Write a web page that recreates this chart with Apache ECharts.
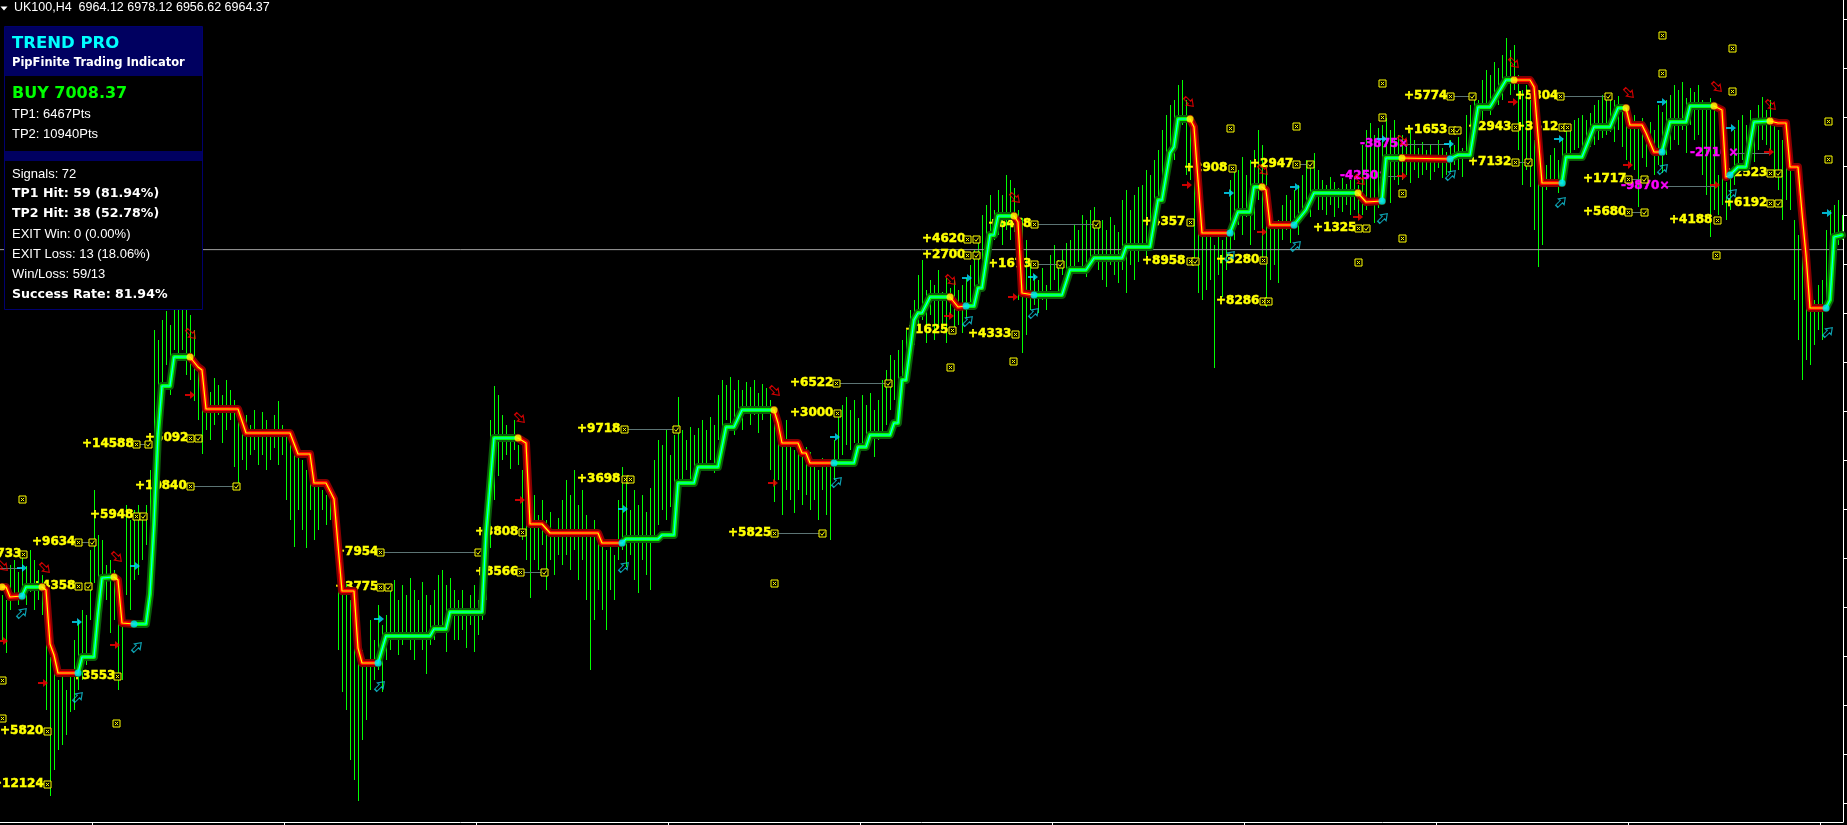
<!DOCTYPE html>
<html>
<head>
<meta charset="utf-8">
<title>UK100,H4 - Trend Pro</title>
<script src="https://cdn.jsdelivr.net/npm/echarts@6.0.0/dist/echarts.min.js"></script>
<style>
  html, body { margin: 0; padding: 0; background: #000; }
  #chart { width: 1847px; height: 825px; }
</style>
</head>
<body>
<div id="chart"></div>
<script>
// bar highs / lows (one bar every 4px, 1 point per pixel)
const HIGH = [
  6619,6614,6649,6654,6642,6659,6648,6664,6654,6644,
  6639,6624,6557,6554,6534,6544,6524,6539,6574,6594,
  6604,6599,6664,6724,6679,6674,6649,6654,6644,6614,
  6599,6709,6694,6704,6709,6699,6709,6744,6884,6874,
  6894,6903,6889,6914,6919,6914,6909,6899,6884,6851,
  6840,6834,6822,6836,6829,6819,6834,6824,6814,6804,
  6794,6799,6789,6804,6784,6802,6794,6779,6799,6813,
  6789,6784,6774,6778,6769,6754,6744,6752,6734,6729,
  6724,6719,6729,6714,6674,6654,6630,6614,6594,6574,
  6564,6554,6594,6574,6609,6589,6599,6624,6634,6614,
  6629,6619,6636,6624,6614,6632,6619,6609,6624,6639,
  6644,6629,6636,6624,6614,6624,6604,6619,6629,6614,
  6654,6714,6794,6828,6819,6799,6789,6774,6794,6769,
  6744,6724,6709,6719,6699,6714,6694,6702,6679,6696,
  6714,6734,6719,6744,6709,6724,6699,6684,6694,6674,
  6669,6664,6671,6659,6714,6747,6734,6704,6724,6709,
  6719,6702,6726,6754,6774,6769,6784,6759,6779,6817,
  6784,6774,6787,6779,6786,6794,6784,6797,6789,6819,
  6834,6829,6837,6824,6834,6824,6832,6827,6834,6821,
  6830,6826,6814,6804,6789,6784,6794,6771,6764,6769,
  6759,6767,6762,6754,6744,6756,6749,6752,6774,6799,
  6809,6817,6804,6814,6796,6819,6809,6821,6804,6814,
  6834,6844,6859,6854,6864,6874,6884,6904,6914,6939,
  6954,6924,6934,6929,6944,6922,6936,6926,6934,6924,
  6929,6936,6949,6964,6971,6999,7009,7019,7004,7024,
  7019,7039,7034,7026,7004,6996,6974,6949,6939,6934,
  6946,6929,6959,6969,6954,6964,6971,6974,6989,6984,
  6999,6994,7004,7007,6989,6994,6984,6997,6989,6982,
  7014,7024,7004,7019,7027,7029,7044,7039,7054,7064,
  7084,7099,7109,7114,7129,7134,7114,7099,7074,7014,
  6994,6979,6984,6969,6982,6974,6978,7034,7049,7044,
  7057,7039,7054,7064,7084,7069,7049,6999,6986,6994,
  7009,7019,7014,7024,7029,7039,7054,7049,7061,7044,
  7034,7029,7037,7032,7026,7036,7030,7034,7038,7029,
  7069,7084,7091,7079,7086,7089,7096,7084,7094,7079,
  7079,7069,7084,7074,7066,7072,7064,7069,7059,7074,
  7066,7062,7074,7069,7077,7066,7099,7109,7119,7114,
  7134,7144,7139,7152,7146,7159,7176,7164,7169,7139,
  7124,7129,7114,7074,7054,7064,7049,7059,7066,7054,
  7076,7084,7089,7094,7096,7099,7094,7101,7109,7114,
  7119,7116,7121,7114,7118,7109,7102,7094,7099,7089,
  7096,7086,7092,7084,7109,7102,7114,7119,7129,7124,
  7132,7116,7126,7122,7129,7114,7109,7116,7104,7039,
  7044,7032,7036,7084,7094,7099,7089,7104,7096,7109,
  7117,7104,7114,7094,7084,7074,7079,7064,6994,6979,
  6969,6964,6924,6914,6929,6934,6984,7004,7009,7014,
  6999
];
const LOW = [
  6574,6561,6604,6614,6609,6616,6609,6622,6604,6614,
  6599,6504,6418,6444,6464,6469,6479,6502,6504,6524,
  6534,6549,6594,6631,6634,6624,6614,6581,6594,6524,
  6534,6619,6604,6634,6639,6654,6669,6669,6767,6794,
  6824,6849,6819,6864,6854,6864,6839,6834,6813,6794,
  6760,6784,6774,6789,6799,6771,6784,6794,6747,6726,
  6754,6744,6759,6764,6749,6759,6744,6754,6766,6749,
  6759,6714,6694,6667,6704,6684,6666,6704,6674,6684,
  6704,6689,6694,6679,6564,6522,6504,6454,6434,6413,
  6474,6494,6524,6534,6544,6522,6554,6564,6574,6559,
  6569,6576,6564,6554,6574,6564,6540,6569,6574,6584,
  6589,6562,6594,6574,6574,6584,6566,6589,6562,6579,
  6594,6614,6666,6714,6738,6754,6759,6745,6764,6749,
  6674,6654,6616,6654,6644,6669,6624,6654,6639,6659,
  6649,6659,6644,6664,6634,6654,6614,6544,6594,6624,
  6604,6584,6624,6614,6654,6664,6647,6659,6634,6621,
  6654,6639,6624,6674,6689,6704,6694,6707,6699,6724,
  6734,6744,6729,6747,6739,6749,6744,6754,6741,6774,
  6784,6794,6789,6779,6796,6784,6804,6789,6799,6781,
  6794,6807,6744,6712,6734,6699,6724,6714,6701,6724,
  6709,6719,6704,6714,6694,6724,6699,6674,6734,6751,
  6759,6769,6764,6771,6754,6769,6764,6779,6757,6774,
  6781,6789,6804,6814,6809,6824,6847,6859,6869,6884,
  6894,6871,6899,6874,6889,6884,6871,6899,6884,6889,
  6881,6896,6904,6909,6914,6949,6964,6959,6974,6979,
  6969,6984,6974,6982,6914,6861,6879,6904,6909,6901,
  6914,6904,6924,6934,6921,6939,6929,6939,6946,6952,
  6944,6937,6949,6952,6944,6934,6927,6949,6939,6931,
  6944,6921,6949,6934,6952,6964,6954,6979,6989,6994,
  7019,7034,7049,7054,7074,7089,7039,7034,6954,6921,
  6914,6924,6934,6846,6939,6917,6944,6964,6974,6989,
  6979,6997,6969,6984,7014,6951,6907,6934,6949,6931,
  6974,6984,6971,6989,6979,6999,7009,6997,7014,7004,
  7004,6999,7009,6997,7006,7002,7009,6999,7004,6996,
  6999,7004,7009,6991,7006,7014,7024,7011,7034,7029,
  7034,7039,7031,7044,7036,7039,7044,7034,7042,7046,
  7036,7039,7042,7049,7044,7037,7057,7064,7074,7084,
  7094,7104,7099,7114,7109,7114,7129,7119,7124,7064,
  7029,7044,7027,6984,6947,6969,7024,7029,7034,7021,
  7034,7056,7059,7064,7066,7059,7064,7067,7069,7074,
  7076,7079,7082,7072,7084,7067,7054,7049,7044,7007,
  7056,7047,7064,7039,7049,7041,7059,7064,7074,7069,
  7084,7061,7089,7074,7079,7039,7019,6977,7004,6999,
  7009,6994,7004,7029,7049,7054,7044,7059,7052,7064,
  7074,7069,7064,7039,7024,6994,7014,7004,6914,6874,
  6834,6854,6849,6869,6884,6874,6914,6954,6964,6969,
  6974
];

// trend legs: 'u' = up (green), 'd' = down (red); points are [bar, price]
const TREND_LEGS = [
  ['d', [[0,6627],[1,6627],[2,6617],[5,6618]]],
  ['u', [[5,6618],[6,6627],[10,6627]]],
  ['d', [[10,6627],[11,6624],[12,6570],[13,6559],[14,6541],[19,6541]]],
  ['u', [[19,6541],[20,6557],[23,6557],[24,6600],[25,6636],[28,6637]]],
  ['d', [[28,6637],[29,6634],[30,6591],[33,6590]]],
  ['u', [[33,6590],[36,6590],[37,6620],[38,6690],[39,6780],[40,6828],[42,6828],[43,6857],[47,6857]]],
  ['d', [[47,6857],[49,6847],[50,6844],[51,6805],[59,6805],[61,6781],[72,6781],[74,6760],[77,6760],[78,6731],[81,6731],[83,6715],[85,6623],[88,6623],[89,6566],[90,6551],[94,6551]]],
  ['u', [[94,6551],[96,6578],[107,6578],[108,6585],[111,6585],[112,6602],[120,6602],[121,6680],[123,6776],[129,6776]]],
  ['d', [[129,6776],[131,6771],[132,6690],[135,6690],[137,6681],[149,6681],[150,6671],[155,6671]]],
  ['u', [[155,6671],[156,6675],[164,6675],[165,6679],[168,6679],[169,6731],[173,6731],[174,6747],[179,6747],[181,6787],[183,6787],[185,6804],[193,6804]]],
  ['d', [[193,6804],[194,6791],[195,6771],[199,6771],[200,6761],[201,6761],[202,6751],[208,6751]]],
  ['u', [[208,6751],[213,6751],[214,6767],[216,6767],[217,6779],[222,6779],[223,6791],[224,6791],[225,6834],[226,6834],[228,6894],[229,6901],[230,6901],[232,6917],[237,6917]]],
  ['d', [[237,6917],[239,6907],[241,6908]]],
  ['u', [[241,6908],[243,6908],[244,6926],[245,6926],[247,6979],[248,6979],[249,6998],[253,6998]]],
  ['d', [[253,6998],[254,6992],[255,6921],[258,6919]]],
  ['u', [[258,6919],[265,6919],[267,6944],[271,6944],[273,6956],[280,6956],[281,6967],[287,6967],[289,7014],[290,7014],[292,7061],[293,7067],[294,7095],[297,7095]]],
  ['d', [[297,7095],[298,7087],[300,6981],[307,6981]]],
  ['u', [[307,6981],[309,7002],[312,7002],[313,7027],[315,7027]]],
  ['d', [[315,7027],[316,7024],[317,6989],[323,6989]]],
  ['u', [[323,6989],[326,7004],[328,7021],[339,7021]]],
  ['d', [[339,7021],[341,7012],[345,7013]]],
  ['u', [[345,7013],[346,7056],[350,7056]]],
  ['d', [[350,7056],[362,7055]]],
  ['u', [[362,7055],[364,7059],[367,7059],[369,7107],[372,7107],[376,7134],[378,7134]]],
  ['d', [[378,7134],[382,7134],[383,7127],[385,7031],[390,7031]]],
  ['u', [[390,7031],[391,7057],[395,7057],[398,7087],[402,7087],[404,7106],[406,7106]]],
  ['d', [[406,7106],[407,7089],[410,7089],[411,7081],[413,7062],[415,7062]]],
  ['u', [[415,7062],[417,7092],[421,7092],[422,7108],[428,7108]]],
  ['d', [[428,7108],[430,7104],[431,7037],[432,7039]]],
  ['u', [[432,7039],[434,7047],[436,7047],[438,7092],[442,7093]]],
  ['d', [[442,7093],[444,7091],[446,7091],[447,7047],[449,7047],[450,7001],[451,6959],[452,6906],[456,6906]]],
  ['u', [[456,6906],[457,6914],[458,6977],[460,6979]]]
];

// signal arrows [bar, price]
const SELL_ARROWS = [[0.25,6648],[10.75,6646],[28.75,6657],[47.25,6880],[129.5,6796],[193.25,6823],[237.25,6934],[253.25,7016],[296.75,7112],[315.25,7044],[339.5,7034],[350.25,7073],[378,7151],[406.75,7121],[428.75,7127],[442.25,7109]];
const BUY_ARROWS = [[5,6601],[19,6517],[33.75,6567],[94.5,6528],[155.5,6647],[208.75,6732],[241.5,6893],[258,6901],[307,6958],[323.5,6968],[345.25,6996],[362.25,7039],[389.75,7012],[415.25,7045],[432.5,7020],[456.5,6882]];
const SELL_ENTRY = [[0.25,6573],[10.25,6531],[28.25,6569],[47,6819],[129.5,6714],[192.75,6731],[236.75,6898],[252.75,6917],[296.25,7029],[315,6982],[339,6997],[350,7038],[377.75,7112],[406.5,7049],[428.25,7029],[441.75,7062]];
const BUY_ENTRY = [[5,6646],[18.75,6592],[33.25,6648],[94.25,6595],[155.25,6705],[208.25,6777],[241.25,6936],[257.75,6937],[306.75,7021],[323.25,7027],[345,7075],[361.75,7070],[389.25,7075],[415,7112],[432.25,7086],[456.25,7001]];

// profit / loss texts [bar, price, text]
const WIN_LABELS = [
  [-6,6660,'+5733'],[7.5,6672,'+9634'],[7.5,6628,'+4358'],[22,6699,'+5948'],[33.25,6728,'+10840'],
  [20,6770,'+14588'],[35.75,6776,'+5092'],[17.5,6538,'+3553'],[-0.5,6483,'+5820'],[-2.5,6430,'+12124'],
  [83.25,6662,'+7954'],[83.25,6627,'+3775'],[118.25,6682,'+3808'],[118.25,6642,'+8566'],
  [143.75,6785,'+9718'],[143.75,6735,'+3698'],[197,6831,'+6522'],[197,6801,'+3000'],[181.5,6681,'+5825'],
  [225.75,6884,'+1625'],[230,6975,'+4620'],[230,6959,'+2700'],[246.5,6990,'+6458'],[246.5,6950,'+1673'],
  [241.5,6880,'+4333'],[285,6992,'+4357'],[285,6953,'+8958'],[295.5,7046,'+2908'],[312,7050,'+2947'],
  [303.5,6954,'+3280'],[303.5,6913,'+8286'],[327.75,6986,'+1325'],[350.5,7118,'+5774'],[350.5,7084,'+1653'],
  [366.5,7087,'+2943'],[378.25,7087,'+3612'],[366.5,7052,'+7132'],[378.25,7118,'+5304'],
  [395.25,7035,'+1717'],[395.25,7002,'+5680'],[430.5,7041,'+2523'],[430.5,7011,'+6192'],[416.75,6994,'+4188']
];
const LOSS_LABELS = [[339.5,7070,'-3875×'],[334.5,7038,'-4250×'],[404.75,7028,'-9870×'],[422,7061,'-2710×']];

// target boxes [bar, price]
const BOX_OPEN = [
  [5.25,6660],[19,6672],[19,6628],[33.5,6698],[47,6728],[33.5,6770],[47,6776],[28.75,6538],[11.25,6483],[11.25,6430],
  [5,6715],[0,6534],[0,6496],[28.5,6491],[94.5,6662],[94.5,6627],[130,6682],[129.5,6642],[155.5,6785],[155.75,6735],
  [157,6735],[208.5,6831],[208.75,6801],[193,6681],[193,6631],[237.5,6884],[241.25,6975],[241.25,6959],[258,6990],[258,6950],
  [253.25,6880],[237,6847],[252.75,6853],[297,6992],[297,6953],[307.5,7046],[323.5,7050],[315.25,6954],[315.25,6913],[316.5,6913],
  [339,6986],[362,7118],[362.5,7084],[345,7131],[345,7097],[307,7086],[323.5,7088],[350,7021],[350,6976],[339,6952],
  [378.25,7087],[390,7087],[391.25,7087],[378.25,7052],[389.5,7118],[406.5,7035],[406.5,7002],[442,7041],[442,7011],[428.75,6994],
  [415,7179],[415,7141],[432.5,7166],[432.5,7123],[456.5,7093],[456.5,7055],[428.5,6959]
];
const BOX_HIT = [
  [22.5,6672],[21.5,6628],[35.25,6698],[58.5,6728],[36.5,6770],[49,6776],[119,6662],[96.5,6627],[135.5,6642],
  [168.5,6785],[221.5,6831],[205,6681],[243.5,6975],[243.5,6959],[273.5,6990],[264.5,6950],[298.25,6953],
  [327,7050],[341,6986],[367.5,7118],[363.75,7084],[381.5,7052],[401.5,7118],[410.5,7035],[410.5,7002],[444,7041],[444,7011]
];
// target link lines [fromBar, toBar, price]
const LINKS = [
  [19,22.5,6672],[47,58.5,6728],[33.5,36.5,6770],[94.5,119,6662],[129.5,135.5,6642],[155.5,168.5,6785],
  [208.5,221.5,6831],[193,205,6681],[258,273.5,6990],[258,264.5,6950],[323.5,327,7050],[362,367.5,7118],
  [378.25,381.5,7052],[389.5,401.5,7118],[406.5,410.5,7035],[406.5,410.5,7002],[350.25,361.75,7070],
  [345.25,350,7038],[415.25,428.25,7028],[432.5,441.75,7061],[-0.5,4.5,6646]
];

const BID = 6964.37;
const X_TICKS = [22.5,70.5,118.5,166.5,214.5,262.5,310.5,358.5,406.5,454.5];
const Y_TICKS = [7195,7146,7097,7048,6999,6950,6901,6852,6803,6754,6705,6656,6607,6558,6509,6460,6411];

const HEADER = 'UK100,H4  6964.12 6978.12 6956.62 6964.37';
const PANEL_LINES = [
  ['Signals: 72', false], ['TP1 Hit: 59 (81.94%)', true], ['TP2 Hit: 38 (52.78%)', true],
  ['EXIT Win: 0 (0.00%)', false], ['EXIT Loss: 13 (18.06%)', false], ['Win/Loss: 59/13', false],
  ['Success Rate: 81.94%', true]
];

const chart = echarts.init(document.getElementById('chart'));

const series = [];

// bars
series.push({
  type: 'custom', z: 1, silent: true,
  data: HIGH.map((h, i) => [i, h, LOW[i]]),
  encode: { x: 0, y: [1, 2] },
  renderItem(params, api) {
    const a = api.coord([api.value(0), api.value(1)]);
    const b = api.coord([api.value(0), api.value(2)]);
    const x = Math.round(a[0]) + 0.5;
    return { type: 'line', shape: { x1: x, y1: a[1], x2: x, y2: b[1] }, style: { stroke: '#00ff00', lineWidth: 1 } };
  }
});

// bid line
series.push({
  type: 'line', z: 2, silent: true, symbol: 'none',
  data: [[-0.5, BID], [460.25, BID]],
  lineStyle: { color: '#a0a0a0', width: 1 }
});

// link lines
series.push({
  type: 'custom', z: 2, silent: true, clip: false,
  data: LINKS.map(r => [r[0], r[2], r[1]]),
  encode: { x: [0, 2], y: 1 },
  renderItem(params, api) {
    const a = api.coord([api.value(0), api.value(1)]);
    const b = api.coord([api.value(2), api.value(1)]);
    const y = Math.round(a[1]) + 0.5;
    return { type: 'line', shape: { x1: a[0], y1: y, x2: b[0], y2: y }, style: { stroke: '#5c7474', lineWidth: 1 } };
  }
});

function textSeries(rows, color) {
  return {
    type: 'custom', z: 3, silent: true, clip: false,
    data: rows.map(r => [r[0], r[1]]),
    encode: { x: 0, y: 1 },
    renderItem(params, api) {
      const p = api.coord([api.value(0), api.value(1)]);
      return {
        type: 'text', x: p[0], y: p[1],
        style: {
          text: rows[params.dataIndex][2], fill: color, stroke: color, lineWidth: 0.5,
          font: 'bold 12px "DejaVu Sans"', align: 'left', verticalAlign: 'middle'
        }
      };
    }
  };
}
series.push(textSeries(WIN_LABELS, '#ffff00'));
series.push(textSeries(LOSS_LABELS, '#ff00ff'));

function boxSeries(rows, hit) {
  return {
    type: 'custom', z: 3, silent: true, clip: false,
    data: rows,
    encode: { x: 0, y: 1 },
    renderItem(params, api) {
      const p = api.coord([api.value(0), api.value(1)]);
      const x = Math.round(p[0]) + 0.5, y = Math.round(p[1]) + 0.5;
      const kids = [{ type: 'rect', shape: { x: x - 3.5, y: y - 3.5, width: 7, height: 7 }, style: { fill: '#000', stroke: '#ffff00', lineWidth: 1 } }];
      if (hit) {
        kids.push({ type: 'polyline', shape: { points: [[x - 2, y], [x - 0.5, y + 1.8], [x + 2.2, y - 2]] }, style: { stroke: '#ffff00', lineWidth: 1, fill: null } });
      } else {
        kids.push({ type: 'line', shape: { x1: x - 1.6, y1: y - 1.6, x2: x + 1.6, y2: y + 1.6 }, style: { stroke: '#ffff00', lineWidth: 1 } });
        kids.push({ type: 'line', shape: { x1: x + 1.6, y1: y - 1.6, x2: x - 1.6, y2: y + 1.6 }, style: { stroke: '#ffff00', lineWidth: 1 } });
      }
      return { type: 'group', children: kids };
    }
  };
}
series.push(boxSeries(BOX_OPEN, false));
series.push(boxSeries(BOX_HIT, true));

// trend line, three layers per leg
const LAYERS = {
  u: [['#0b5c0b', 8], ['#00ff00', 4], ['#00ffff', 1.2]],
  d: [['#850000', 8], ['#ff0000', 4], ['#ffff00', 1.2]]
};
TREND_LEGS.forEach(([dir, pts]) => {
  LAYERS[dir].forEach(([color, width], k) => {
    series.push({
      type: 'line', z: 4 + k, silent: true, symbol: 'none', data: pts,
      lineStyle: { color, width, join: 'round', cap: 'round' }
    });
  });
});

// turning dots
series.push({
  type: 'scatter', z: 8, silent: true, symbolSize: 7,
  data: TREND_LEGS.filter(l => l[0] === 'd').map(l => l[1][0]),
  itemStyle: { color: '#ffff00' }
});
series.push({
  type: 'scatter', z: 8, silent: true, symbolSize: 7,
  data: TREND_LEGS.filter(l => l[0] === 'u').map(l => l[1][0]),
  itemStyle: { color: '#00e0ff' }
});

const HOLLOW = 'path://M3,0 L7,0 L7,7 L10,7 L5,13 L0,7 L3,7 Z';
const SMALL = 'path://M0,3 L5,3 L5,0 L10,4 L5,8 L5,5 L0,5 Z';
series.push({
  type: 'scatter', z: 9, silent: true, clip: false, data: SELL_ARROWS,
  symbol: HOLLOW, symbolSize: [8, 12], symbolRotate: 45,
  itemStyle: { color: 'rgba(0,0,0,0)', borderColor: '#ff0000', borderWidth: 1.2 }
});
series.push({
  type: 'scatter', z: 9, silent: true, clip: false, data: BUY_ARROWS,
  symbol: HOLLOW, symbolSize: [8, 12], symbolRotate: 135,
  itemStyle: { color: 'rgba(0,0,0,0)', borderColor: '#10c8dc', borderWidth: 1.2 }
});
series.push({
  type: 'scatter', z: 9, silent: true, clip: false, data: SELL_ENTRY,
  symbol: SMALL, symbolSize: [10, 8], itemStyle: { color: '#ff0000' }
});
series.push({
  type: 'scatter', z: 9, silent: true, clip: false, data: BUY_ENTRY,
  symbol: SMALL, symbolSize: [10, 8], itemStyle: { color: '#00e0ff' }
});

// info panel
const graphic = [
  { type: 'polygon', z: 100, shape: { points: [[0.5, 6.5], [7.5, 6.5], [4, 10.5]] }, style: { fill: '#ffffff' } },
  { type: 'text', z: 100, x: 14, y: 8, style: { text: HEADER, fill: '#ffffff', font: '12.5px "Liberation Sans"', verticalAlign: 'middle' } },
  { type: 'rect', z: 100, shape: { x: 4.5, y: 26.5, width: 198, height: 283 }, style: { fill: '#000000', stroke: '#00006e', lineWidth: 1 } },
  { type: 'rect', z: 101, shape: { x: 5, y: 27, width: 197, height: 49 }, style: { fill: '#000060' } },
  { type: 'rect', z: 101, shape: { x: 5, y: 151, width: 197, height: 10 }, style: { fill: '#000060' } },
  { type: 'text', z: 102, x: 12, y: 44, style: { text: 'TREND PRO', fill: '#00ffff', font: 'bold 16.5px "DejaVu Sans"', verticalAlign: 'middle' } },
  { type: 'text', z: 102, x: 12, y: 63, style: { text: 'PipFinite Trading Indicator', fill: '#ffffff', font: 'bold 11.5px "DejaVu Sans"', verticalAlign: 'middle' } },
  { type: 'text', z: 102, x: 12, y: 94, style: { text: 'BUY 7008.37', fill: '#00ff00', font: 'bold 16px "DejaVu Sans"', verticalAlign: 'middle' } },
  { type: 'text', z: 102, x: 12, y: 114, style: { text: 'TP1: 6467Pts', fill: '#ffffff', font: '13px "Liberation Sans"', verticalAlign: 'middle' } },
  { type: 'text', z: 102, x: 12, y: 134, style: { text: 'TP2: 10940Pts', fill: '#ffffff', font: '13px "Liberation Sans"', verticalAlign: 'middle' } }
];
PANEL_LINES.forEach(([t, bold], k) => {
  graphic.push({
    type: 'text', z: 102, x: 12, y: 174 + k * 20.1,
    style: { text: t, fill: '#ffffff', font: bold ? 'bold 12.6px "DejaVu Sans"' : '13px "Liberation Sans"', verticalAlign: 'middle' }
  });
});

chart.setOption({
  backgroundColor: '#000000',
  animation: false,
  grid: { left: 0, right: 4, top: 0, bottom: 3 },
  xAxis: {
    type: 'value', min: -0.5, max: 460.25,
    axisLine: { show: true, onZero: false, lineStyle: { color: '#ffffff', width: 1 } },
    axisTick: { show: true, customValues: X_TICKS, length: 3, lineStyle: { color: '#ffffff' } },
    axisLabel: { show: false },
    splitLine: { show: false }
  },
  yAxis: {
    type: 'value', position: 'right', min: 6392, max: 7214,
    axisLine: { show: true, onZero: false, lineStyle: { color: '#ffffff', width: 1 } },
    axisTick: { show: true, customValues: Y_TICKS, length: 4, lineStyle: { color: '#ffffff' } },
    axisLabel: { show: false },
    splitLine: { show: false }
  },
  graphic: graphic,
  series: series
});
</script>
</body>
</html>
